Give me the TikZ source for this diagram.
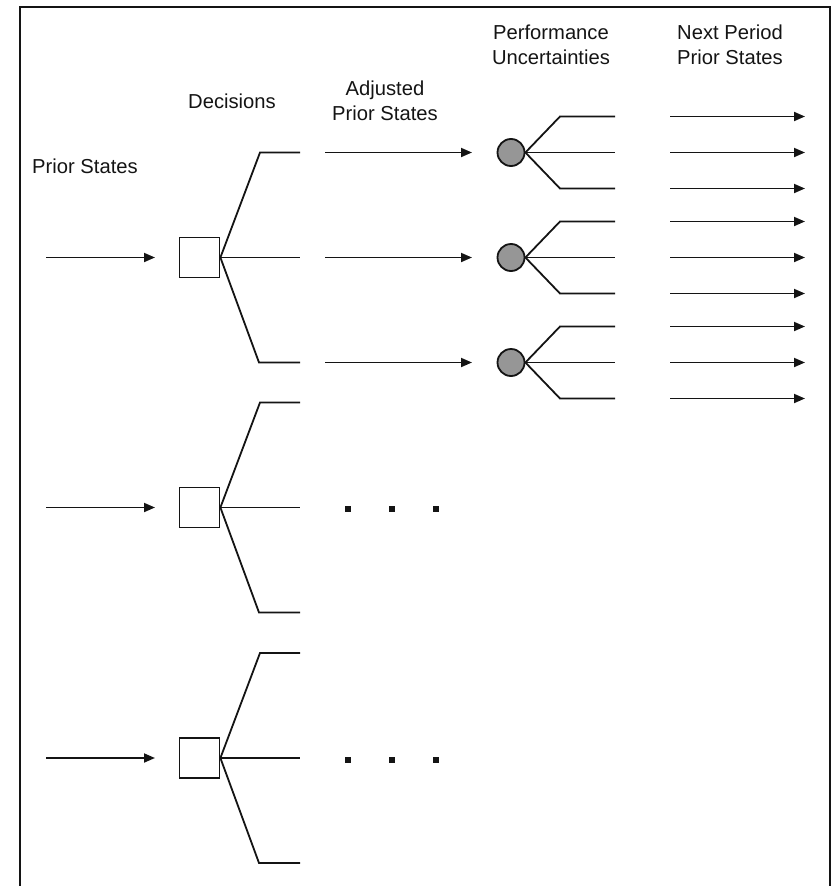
\documentclass[tikz,border=0pt]{standalone}
\usepackage{fontspec}
\setmainfont{Liberation Sans}
\usetikzlibrary{arrows.meta}
\definecolor{circgray}{RGB}{150,150,150}
\definecolor{ink}{RGB}{20,20,20}
\begin{document}
\begin{tikzpicture}[x=1pt,y=-1pt,
  line width=1.8pt, draw=ink,
  link/.style={line width=1.8pt, draw=ink},
  arr/.style={link, -{Triangle[length=11pt,width=9pt]}},
  decbox/.style={draw=ink, line width=1.8pt, fill=white, minimum size=40pt, inner sep=0pt, rectangle},
  chance/.style={draw=ink, line width=1.8pt, fill=circgray, circle, minimum size=27pt, inner sep=0pt},
  dotbox/.style={fill=ink, rectangle, minimum size=6.5pt, inner sep=0pt},
  lbl/.style={align=center, font=\fontsize{20.2}{25}\selectfont, text=ink, inner sep=0pt}
]
\useasboundingbox (0,0) rectangle (833,886);
% frame
\draw[line width=2.8pt, draw=ink] (20,886) -- (20,7) -- (830,7) -- (830,886);

% labels
\node[lbl] (lprior) at (85,166) {Prior States};
\node[lbl] (ldec) at (232,101) {Decisions};
\node[lbl] (ladj) at (385,100.5) {Adjusted\\Prior States};
\node[lbl] (lperf) at (551,44.5) {Performance\\Uncertainties};
\node[lbl] (lnext) at (730,44.5) {Next Period\\Prior States};

% decision nodes
\foreach \i/\y in {1/257.5, 2/507.5, 3/758} {
  \node[decbox] (d\i) at (199.5,\y) {};
  \coordinate (in\i) at (46,\y);
  \coordinate (ie\i) at (155,\y);
  \draw[arr] (in\i) -- (ie\i);
  \coordinate (ct\i) at (260,\y-105);
  \coordinate (et\i) at (300,\y-105);
  \coordinate (em\i) at (300,\y);
  \coordinate (cb\i) at (259,\y+105);
  \coordinate (eb\i) at (300,\y+105);
  \draw[link] (d\i.east) -- (ct\i) -- (et\i);
  \draw[link] (d\i.east) -- (em\i);
  \draw[link] (d\i.east) -- (cb\i) -- (eb\i);
}

% adjusted prior states arrows and chance nodes
\foreach \j/\y in {1/152.5, 2/257.5, 3/362.5} {
  \coordinate (as\j) at (325,\y);
  \coordinate (ae\j) at (472,\y);
  \draw[arr] (as\j) -- (ae\j);
  \node[chance] (p\j) at (511,\y) {};
  \coordinate (pt\j) at (560,\y-36);
  \coordinate (ptE\j) at (615,\y-36);
  \coordinate (pmE\j) at (615,\y);
  \coordinate (pb\j) at (560,\y+36);
  \coordinate (pbE\j) at (615,\y+36);
  \draw[link] (p\j.east) -- (pt\j) -- (ptE\j);
  \draw[link] (p\j.east) -- (pmE\j);
  \draw[link] (p\j.east) -- (pb\j) -- (pbE\j);
}

% next period prior states arrows
\foreach \k/\y in {1/116.5, 2/152.5, 3/188.5, 4/221.5, 5/257.5, 6/293.5, 7/326.5, 8/362.5, 9/398.5} {
  \coordinate (ns\k) at (670,\y);
  \coordinate (ne\k) at (805,\y);
  \draw[arr] (ns\k) -- (ne\k);
}

% ellipsis dots
\foreach \r/\y in {2/509, 3/760} {
  \node[dotbox] (dA\r) at (348,\y) {};
  \node[dotbox] (dB\r) at (392,\y) {};
  \node[dotbox] (dC\r) at (436,\y) {};
}
\end{tikzpicture}
\end{document}
